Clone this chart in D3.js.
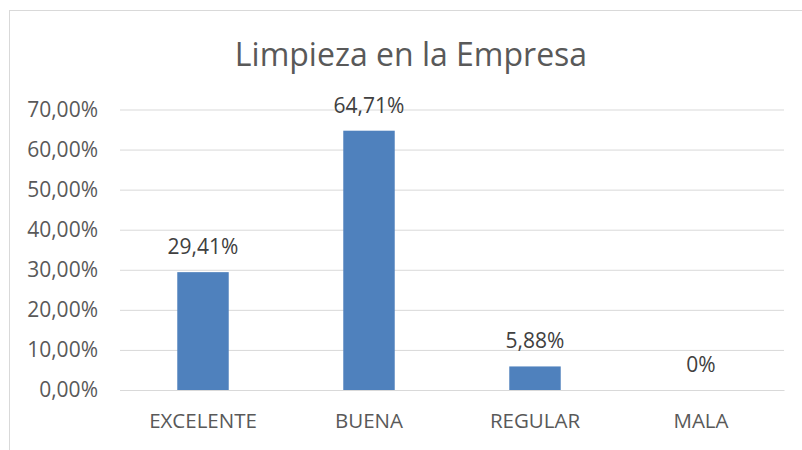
<!DOCTYPE html>
<html>
<head>
<meta charset="utf-8">
<script src="https://cdn.jsdelivr.net/npm/d3@7"></script>
<style>
  body { margin: 0; background: #fff; }
  svg { display: block; }
  svg text { font-family: "Open Sans", sans-serif; }
</style>
</head>
<body>
<div class="canvas"></div>
<script>
// data
const categories = ['EXCELENTE', 'BUENA', 'REGULAR', 'MALA'];
const values = [0.2941, 0.6471, 0.0588, 0];
const valueLabels = ['29,41%', '64,71%', '5,88%', '0%'];
const yTicks = [0, 0.1, 0.2, 0.3, 0.4, 0.5, 0.6, 0.7];
const yTickLabels = ['0,00%', '10,00%', '20,00%', '30,00%', '40,00%', '50,00%', '60,00%', '70,00%'];
const title = 'Limpieza en la Empresa';

const width = 802;
const height = 450;
const margin = { top: 109.5, right: 18, bottom: 60, left: 120 };

const svg = d3.select('.canvas')
    .append('svg')
    .attr('width', width)
    .attr('height', height)
;

// chart border (runs off the right and bottom edges)
svg.append('rect')
    .attr('x', 9.5)
    .attr('y', 10.5)
    .attr('width', 1000)
    .attr('height', 1000)
    .attr('fill', 'none')
    .attr('stroke', '#d9d9d9')
;

// scales
const x = d3.scaleBand()
    .domain(categories)
    .range([ margin.left, width - margin.right ])
    .paddingInner(0.69)
    .paddingOuter(0.345)
;
const y = d3.scaleLinear()
    .domain([ 0, 0.7 ])
    .range([ height - margin.bottom, margin.top ])
;

// gridlines + y labels
const yAxis = d3.axisLeft(y)
    .tickValues(yTicks)
    .tickFormat((d, i) => yTickLabels[i])
    .tickSize(-(width - margin.right - margin.left))
    .tickPadding(22)
;
const yAxisGroup = svg.append('g')
    .attr('transform', `translate(${margin.left}, 0)`)
    .call(yAxis)
    .attr('font-family', null)
;
yAxisGroup.select('.domain').remove();
yAxisGroup.selectAll('line').attr('stroke', '#d9d9d9');
yAxisGroup.selectAll('text')
    .attr('fill', '#595959')
    .style('font-size', '21px')
;

// bars
svg.selectAll('rect.bar')
    .data(values)
    .enter()
    .append('rect')
        .attr('class', 'bar')
        .attr('x', (d, i) => x(categories[i]))
        .attr('y', d => y(d))
        .attr('width', x.bandwidth())
        .attr('height', d => y(0) - y(d))
        .attr('fill', '#4f81bd')
;

// value labels
svg.selectAll('text.value')
    .data(values)
    .enter()
    .append('text')
        .attr('class', 'value')
        .attr('x', (d, i) => x(categories[i]) + x.bandwidth() / 2)
        .attr('y', d => y(d) - 18)
        .attr('text-anchor', 'middle')
        .attr('fill', '#404040')
        .style('font-size', '21px')
        .text((d, i) => valueLabels[i])
;

// x axis
const xAxis = d3.axisBottom(x).tickSize(0).tickPadding(23);
const xAxisGroup = svg.append('g')
    .attr('transform', `translate(0, ${y(0)})`)
    .call(xAxis)
    .attr('font-family', null)
;
xAxisGroup.select('.domain').attr('stroke', '#d9d9d9');
xAxisGroup.selectAll('text')
    .attr('fill', '#595959')
    .style('font-size', '20.5px')
;

// title
svg.append('text')
    .attr('x', 411)
    .attr('y', 66)
    .attr('text-anchor', 'middle')
    .attr('fill', '#595959')
    .style('font-size', '32px')
    .text(title)
;
</script>
</body>
</html>
